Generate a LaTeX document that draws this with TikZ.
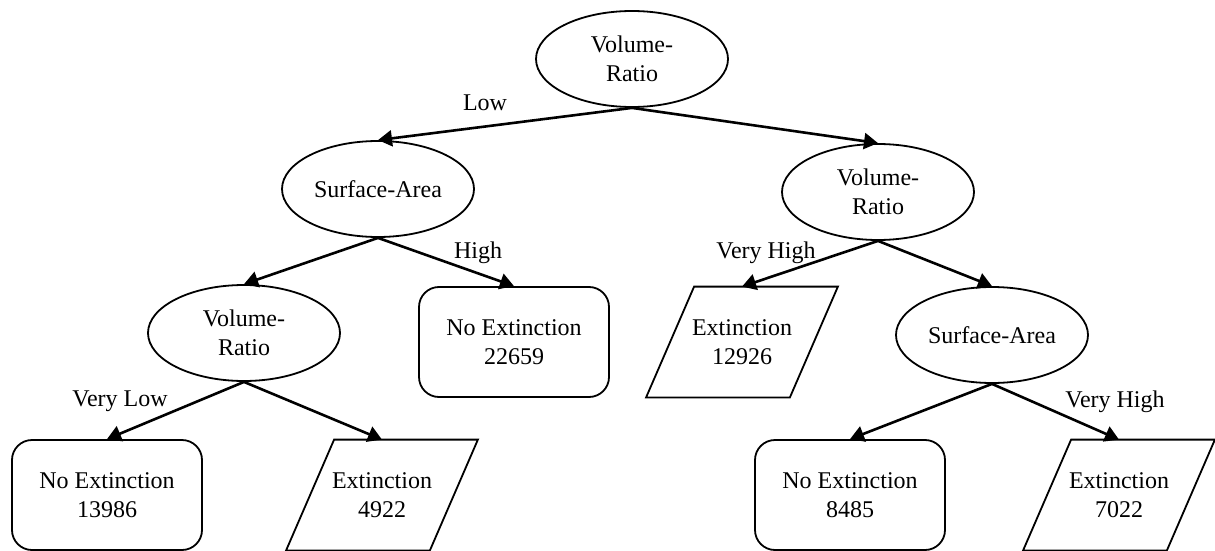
\documentclass[tikz,border=0pt]{standalone}
\usepackage{fontspec}
\setmainfont{Liberation Serif}
\usetikzlibrary{arrows.meta, shapes.geometric}

\begin{document}
\begin{tikzpicture}[x=0.5pt, y=-0.5pt, >={Triangle[length=7pt,width=8pt]},
    font=\fontsize{12}{14.5}\selectfont,
    split/.style={draw, ellipse, line width=0.9pt, minimum width=96pt, minimum height=48pt, inner sep=0pt, align=center},
    noext/.style={draw, rectangle, rounded corners=10pt, line width=0.9pt, minimum width=95pt, minimum height=55pt, align=center},
    ext/.style={rectangle, minimum width=95.5pt, minimum height=55pt, inner sep=0pt, align=center,
        append after command={
            \pgfextra{\draw[line width=0.9pt]
                ([xshift=24pt]\tikzlastnode.north west) -- (\tikzlastnode.north east)
                -- ([xshift=-24pt]\tikzlastnode.south east) -- (\tikzlastnode.south west) -- cycle;}}},
    branch/.style={->, line width=1.3pt}]
    \useasboundingbox (0,0) rectangle (1215,551);
    \node[split] (root) at (632,59) {Volume-\\Ratio};
    \node[split] (area1) at (378,189) {Surface-Area};
    \node[split] (ratio2) at (878,192) {Volume-\\Ratio};
    \node[split] (ratio3) at (244,333) {Volume-\\Ratio};
    \node[split] (area2) at (992,335) {Surface-Area};
    \node[noext] (noext1) at (514,342) {No Extinction\\22659};
    \node[ext] (ext1) at (742,342) {Extinction\\12926};
    \node[noext] (noext2) at (107,495) {No Extinction\\13986};
    \node[ext] (ext2) at (382,495) {Extinction\\4922};
    \node[noext] (noext3) at (850,495) {No Extinction\\8485};
    \node[ext] (ext3) at (1119,495) {Extinction\\7022};
    % branch labels
    \node (low) at (485,103) {Low};
    \node (high) at (478,253) {High};
    \node (vhigh1) at (766,253) {Very High};
    \node (vlow) at (120,401) {Very Low};
    \node (vhigh2) at (1115,402) {Very High};
    \draw[branch] (root.south) -- (area1.north);
    \draw[branch] (root.south) -- (ratio2.north);
    \draw[branch] (area1.south) -- (ratio3.north);
    \draw[branch] (area1.south) -- (noext1.north);
    \draw[branch] (ratio2.south) -- (ext1.north);
    \draw[branch] (ratio2.south) -- (area2.north);
    \draw[branch] (ratio3.south) -- (noext2.north);
    \draw[branch] (ratio3.south) -- (ext2.north);
    \draw[branch] (area2.south) -- (noext3.north);
    \draw[branch] (area2.south) -- (ext3.north);
\end{tikzpicture}
\end{document}
